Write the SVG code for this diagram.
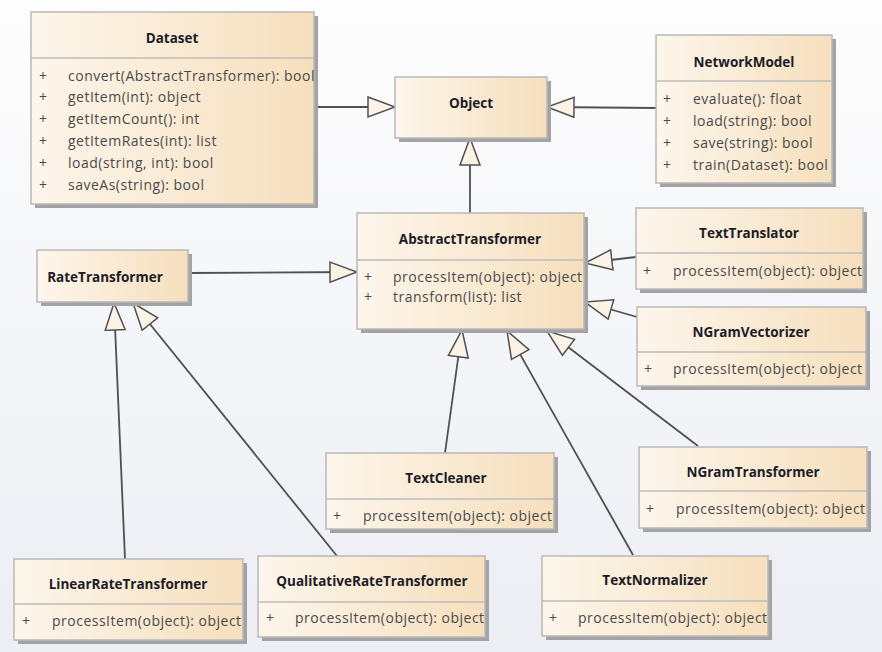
<svg xmlns="http://www.w3.org/2000/svg" width="882" height="652" viewBox="0 0 882 652">
<defs>
<linearGradient id="bg" x1="0" y1="0" x2="0" y2="1">
<stop offset="0" stop-color="#fdfdfd"/>
<stop offset="1" stop-color="#eceef4"/>
</linearGradient>
<linearGradient id="box" x1="0" y1="0" x2="1" y2="0">
<stop offset="0" stop-color="#fdf6ec"/>
<stop offset="1" stop-color="#f6dfbd"/>
</linearGradient>
<marker id="gen" markerWidth="30" markerHeight="24" refX="28" refY="11" orient="auto" markerUnits="userSpaceOnUse">
<path d="M1,1 L28,11 L1,21 Z" fill="#fbf3e6" stroke="#505050" stroke-width="1.5"/>
</marker>
</defs>
<style>
.sh{fill:#a3a3a6}
.bx{fill:url(#box);stroke:#b9b9b9;stroke-width:1.5}
.dv{stroke:#bdbdbd;stroke-width:1.5}
.t{font-family:"Open Sans","Segoe UI","DejaVu Sans",sans-serif;font-size:13.5px;font-weight:bold;fill:#1c1c28;text-anchor:middle}
.m{font-family:"Open Sans","Segoe UI","DejaVu Sans",sans-serif;font-size:14px;letter-spacing:0.5px;fill:#4a4a4a}
.c{stroke:#505050;stroke-width:1.8;fill:none;marker-end:url(#gen)}
</style>
<rect width="882" height="652" fill="url(#bg)"/>

<g id="connectors">
<line class="c" x1="314" y1="107" x2="395" y2="107"/>
<line class="c" x1="656" y1="108" x2="547" y2="107"/>
<line class="c" x1="470" y1="213" x2="470" y2="138"/>
<line class="c" x1="188" y1="273" x2="357" y2="272"/>
<line class="c" x1="636" y1="257" x2="585" y2="263"/>
<line class="c" x1="637" y1="317" x2="585" y2="302"/>
<line class="c" x1="445" y1="453" x2="462" y2="330"/>
<line class="c" x1="633" y1="555" x2="507" y2="331"/>
<line class="c" x1="698" y1="446" x2="547" y2="331"/>
<line class="c" x1="125" y1="559" x2="114" y2="303"/>
<line class="c" x1="337" y1="556" x2="133" y2="303"/>
</g>

<g id="Dataset">
<rect class="sh" x="35" y="16" width="283" height="192"/>
<rect class="bx" x="31" y="12" width="283" height="192"/>
<line class="dv" x1="31" y1="58" x2="314" y2="58"/>
<text class="t" x="172" y="43">Dataset</text>
<text class="m" x="39" y="81">+</text><text class="m" x="68" y="81">convert(AbstractTransformer): bool</text>
<text class="m" x="39" y="102">+</text><text class="m" x="68" y="102">getItem(int): object</text>
<text class="m" x="39" y="124">+</text><text class="m" x="68" y="124">getItemCount(): int</text>
<text class="m" x="39" y="146">+</text><text class="m" x="68" y="146">getItemRates(int): list</text>
<text class="m" x="39" y="168">+</text><text class="m" x="68" y="168">load(string, int): bool</text>
<text class="m" x="39" y="190">+</text><text class="m" x="68" y="190">saveAs(string): bool</text>
</g>

<g id="Object">
<rect class="sh" x="399" y="81" width="152" height="61"/>
<rect class="bx" x="395" y="77" width="152" height="61"/>
<text class="t" x="471" y="108">Object</text>
</g>

<g id="NetworkModel">
<rect class="sh" x="660" y="39" width="176" height="148"/>
<rect class="bx" x="656" y="35" width="176" height="148"/>
<line class="dv" x1="656" y1="81" x2="832" y2="81"/>
<text class="t" x="744" y="67">NetworkModel</text>
<text class="m" x="663" y="104">+</text><text class="m" x="693" y="104">evaluate(): float</text>
<text class="m" x="663" y="126">+</text><text class="m" x="693" y="126">load(string): bool</text>
<text class="m" x="663" y="148">+</text><text class="m" x="693" y="148">save(string): bool</text>
<text class="m" x="663" y="170">+</text><text class="m" x="693" y="170">train(Dataset): bool</text>
</g>

<g id="AbstractTransformer">
<rect class="sh" x="361" y="217" width="227" height="116"/>
<rect class="bx" x="357" y="213" width="227" height="116"/>
<line class="dv" x1="357" y1="260" x2="584" y2="260"/>
<text class="t" x="470" y="244">AbstractTransformer</text>
<text class="m" x="364" y="282">+</text><text class="m" x="393" y="282">processItem(object): object</text>
<text class="m" x="364" y="302">+</text><text class="m" x="393" y="302">transform(list): list</text>
</g>

<g id="RateTransformer">
<rect class="sh" x="41" y="254" width="151" height="52"/>
<rect class="bx" x="37" y="250" width="151" height="52"/>
<text class="t" x="105" y="282">RateTransformer</text>
</g>

<g id="TextTranslator">
<rect class="sh" x="640" y="212" width="227" height="81"/>
<rect class="bx" x="636" y="208" width="227" height="81"/>
<line class="dv" x1="636" y1="253" x2="863" y2="253"/>
<text class="t" x="749" y="238">TextTranslator</text>
<text class="m" x="643" y="276">+</text><text class="m" x="673" y="276">processItem(object): object</text>
</g>

<g id="NGramVectorizer">
<rect class="sh" x="641" y="311" width="229" height="79"/>
<rect class="bx" x="637" y="307" width="229" height="79"/>
<line class="dv" x1="637" y1="352" x2="866" y2="352"/>
<text class="t" x="751" y="337">NGramVectorizer</text>
<text class="m" x="644" y="374">+</text><text class="m" x="673" y="374">processItem(object): object</text>
</g>

<g id="TextCleaner">
<rect class="sh" x="330" y="457" width="228" height="76"/>
<rect class="bx" x="326" y="453" width="228" height="76"/>
<line class="dv" x1="326" y1="499" x2="554" y2="499"/>
<text class="t" x="446" y="483">TextCleaner</text>
<text class="m" x="333" y="521">+</text><text class="m" x="363" y="521">processItem(object): object</text>
</g>

<g id="NGramTransformer">
<rect class="sh" x="643" y="451" width="228" height="81"/>
<rect class="bx" x="639" y="447" width="228" height="81"/>
<line class="dv" x1="639" y1="491" x2="867" y2="491"/>
<text class="t" x="753" y="477">NGramTransformer</text>
<text class="m" x="646" y="514">+</text><text class="m" x="676" y="514">processItem(object): object</text>
</g>

<g id="LinearRateTransformer">
<rect class="sh" x="18" y="563" width="229" height="81"/>
<rect class="bx" x="14" y="559" width="229" height="81"/>
<line class="dv" x1="14" y1="604" x2="243" y2="604"/>
<text class="t" x="128" y="589">LinearRateTransformer</text>
<text class="m" x="22" y="626">+</text><text class="m" x="52" y="626">processItem(object): object</text>
</g>

<g id="QualitativeRateTransformer">
<rect class="sh" x="262" y="560" width="227" height="81"/>
<rect class="bx" x="258" y="556" width="227" height="81"/>
<line class="dv" x1="258" y1="602" x2="485" y2="602"/>
<text class="t" x="372" y="586">QualitativeRateTransformer</text>
<text class="m" x="266" y="623">+</text><text class="m" x="295" y="623">processItem(object): object</text>
</g>

<g id="TextNormalizer">
<rect class="sh" x="546" y="560" width="226" height="80"/>
<rect class="bx" x="542" y="556" width="226" height="80"/>
<line class="dv" x1="542" y1="601" x2="768" y2="601"/>
<text class="t" x="655" y="585">TextNormalizer</text>
<text class="m" x="549" y="623">+</text><text class="m" x="578" y="623">processItem(object): object</text>
</g>
</svg>
